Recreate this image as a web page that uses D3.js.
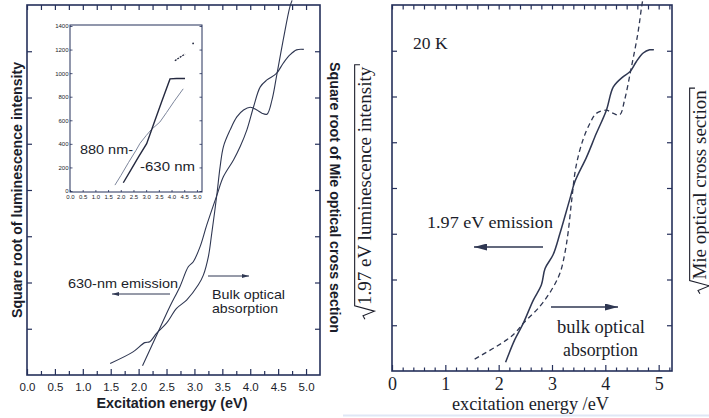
<!DOCTYPE html>
<html><head><meta charset="utf-8">
<script src="https://cdn.jsdelivr.net/npm/d3@7"></script>
<style>body{margin:0;background:#fff}svg{display:block}</style>
</head><body>
<svg id="c" width="709" height="418"></svg>
<script>
// ---------- DATA ----------
// Left panel: x tick labels
const leftXTicks = [0,0.5,1,1.5,2,2.5,3,3.5,4,4.5,5];
const leftXTickLabels = ["0.0","0.5","1.0","1.5","2.0","2.5","3.0","3.5","4.0","4.5","5.0"];
// Left panel: 630-nm emission (square root of luminescence, arbitrary units)
const leftEmisE = [2.07,2.38,2.56,2.74,2.89,2.98,3.10,3.22,3.40,3.52,3.70,3.82,3.94,4.06,4.18,4.30,4.47,4.59,4.71,4.83,4.96];
const leftEmisV = [0.20,1.01,1.48,1.91,2.34,2.45,2.77,3.24,3.88,4.29,4.65,4.94,5.30,5.80,6.23,6.38,6.52,6.74,6.92,7.03,7.04];
// Left panel: bulk optical absorption (square root of Mie cross section)
const leftAbsE = [1.49,1.90,2.11,2.20,2.32,2.50,2.68,2.86,3.07,3.16,3.25,3.31,3.40,3.46,3.52,3.64,3.76,3.88,4.00,4.12,4.21,4.30,4.39,4.47,4.59,4.71,4.75];
const leftAbsV = [0.25,0.50,0.70,0.72,0.90,1.12,1.44,1.62,1.95,2.16,2.56,3.06,3.88,4.50,4.94,5.30,5.58,5.73,5.79,5.73,5.66,5.64,5.95,6.45,7.24,7.96,8.10];
// Inset
const insetXTicks = [0,0.5,1,1.5,2,2.5,3,3.5,4,4.5,5];
const insetXTickLabels = ["0.0","0.5","1.0","1.5","2.0","2.5","3.0","3.5","4.0","4.5","5.0"];
const insetYTicks = [0,200,400,600,800,1000,1200,1400];
const inset880E = [1.77,2.00,2.30,2.60,2.76,3.00,3.20,3.54,3.80,4.10,4.46];
const inset880V = [50,130,240,345,405,470,520,585,665,760,867];
const inset630E = [2.10,2.40,2.70,3.02,3.30,3.60,3.94,4.20,4.53];
const inset630V = [70,180,290,402,570,750,951,955,955];
const insetHighE = [4.13,4.30,4.53];
const insetHighV = [1105,1130,1162];
const insetPointE = [4.85];
const insetPointV = [1252];
// Right panel
const rightXTicks = [0,1,2,3,4,5];
const rightXTickLabels = ["0","1","2","3","4","5"];
// 1.97 eV emission (solid)
const rightEmisE = [2.13,2.30,2.46,2.65,2.80,2.87,3.02,3.15,3.33,3.43,3.65,3.83,4.02,4.15,4.33,4.46,4.58,4.71,4.83,4.91];
const rightEmisV = [0.19,0.68,1.04,1.55,1.88,2.24,2.54,3.01,3.74,4.14,4.68,5.19,5.70,6.21,6.43,6.54,6.76,6.95,7.02,7.02];
// bulk optical absorption (dashed)
const rightAbsE = [1.55,2.15,2.33,2.46,2.77,2.99,3.15,3.24,3.30,3.37,3.45,3.58,3.71,3.83,4.02,4.15,4.27,4.36,4.49,4.61,4.68,4.70];
const rightAbsV = [0.26,0.68,0.86,1.04,1.41,1.77,2.14,2.57,3.01,3.74,4.47,5.05,5.41,5.63,5.70,5.63,5.60,5.92,6.65,7.38,7.96,8.10];

// ---------- DRAWING ----------
const svg = d3.select("#c");
const frameCol = "#25305a", lineCol = "#2f3752", textCol = "#1b1d2a";
const sans = "'Liberation Sans', Arial, sans-serif";
const serif = "'Liberation Serif', 'Times New Roman', serif";
const zip = (a,b) => a.map((d,i)=>[d,b[i]]);

const defs = svg.append("defs");
function marker(id, w, h) {
  defs.append("marker").attr("id", id).attr("viewBox", `0 0 ${w} ${h}`)
    .attr("refX", w).attr("refY", h/2).attr("markerWidth", w).attr("markerHeight", h)
    .attr("markerUnits","userSpaceOnUse").attr("orient","auto")
    .append("path").attr("d", `M0,0L${w},${h/2}L0,${h}Z`).attr("fill", lineCol);
}
marker("arrS", 7, 4);
marker("arrL", 13, 7);

// faint scan line at bottom
svg.append("line").attr("x1",343).attr("x2",709).attr("y1",415.5).attr("y2",415.5)
  .attr("stroke","#dfe7f6").attr("stroke-width",2);

function panel(o) {
  const g = svg.append("g");
  const x = o.x, y = o.y;
  const [x0,x1] = x.range(), [y1,y0] = y.range();
  const tickStyle = sel => { sel.select(".domain").remove(); sel.selectAll("line").attr("stroke", frameCol).attr("stroke-width",1.2); };
  const bot = g.append("g").attr("transform",`translate(0,${y1})`)
    .call(d3.axisBottom(x).tickValues(o.major).tickSize(-o.majLen).tickPadding(o.pad).tickFormat((d,i)=>o.labels[i]));
  tickStyle(bot);
  bot.selectAll("text").attr("font-family", o.font).attr("font-size", o.fs).attr("fill", textCol);
  g.append("g").attr("transform",`translate(0,${y1})`)
    .call(d3.axisBottom(x).tickValues(o.minor).tickSize(-o.minLen).tickFormat("")).call(tickStyle);
  g.append("g").attr("transform",`translate(0,${y0})`)
    .call(d3.axisTop(x).tickValues(o.major.concat(o.minor)).tickSize(-o.minLen-1).tickFormat("")).call(tickStyle);
  g.append("g").attr("transform",`translate(${x0},0)`)
    .call(d3.axisLeft(y).tickValues(d3.range(1,8)).tickSize(-5).tickFormat("")).call(tickStyle);
  g.append("g").attr("transform",`translate(${x1},0)`)
    .call(d3.axisRight(y).tickValues(d3.range(1,8)).tickSize(-5).tickFormat("")).call(tickStyle);
  g.append("rect").attr("x",x0).attr("y",y0).attr("width",x1-x0).attr("height",y1-y0)
    .attr("fill","none").attr("stroke",frameCol).attr("stroke-width",1.6);
  return g;
}

// ===== Left panel =====
const xL = d3.scaleLinear().domain([0,5.25]).range([27,320]);
const yL = d3.scaleLinear().domain([0,8]).range([375,5]);
const gL = panel({x:xL, y:yL, major:leftXTicks, labels:leftXTickLabels,
  minor:d3.range(0.25,5.25,0.5), majLen:6, minLen:4, pad:8, font:sans, fs:11.5});

const lineL = d3.line().x(d=>xL(d[0])).y(d=>yL(d[1])).curve(d3.curveCatmullRom.alpha(0.5));
gL.append("path").attr("d", lineL(zip(leftEmisE,leftEmisV))).attr("fill","none").attr("stroke",lineCol).attr("stroke-width",1.1);
gL.append("path").attr("d", lineL(zip(leftAbsE,leftAbsV))).attr("fill","none").attr("stroke",lineCol).attr("stroke-width",1.1);

function txt(g, x, y, s, font, fs, opts={}) {
  const t = g.append("text").attr("x",x).attr("y",y).text(s).attr("font-family",font)
    .attr("font-size",fs).attr("fill",textCol).attr("text-anchor",opts.anchor||"start");
  if (opts.bold) t.attr("font-weight","bold");
  if (opts.len) t.attr("textLength",opts.len).attr("lengthAdjust","spacingAndGlyphs");
  if (opts.rot) t.attr("transform",`rotate(${opts.rot},${x},${y})`);
  return t;
}
txt(gL, 172, 408, "Excitation energy (eV)", sans, 14, {anchor:"middle", bold:true, len:151});
txt(gL, 22, 190, "Square root of luminescence intensity", sans, 14, {anchor:"middle", bold:true, rot:-90, len:256});
txt(gL, 330, 197.5, "Square root of Mie optical cross section", sans, 14, {anchor:"middle", bold:true, rot:90, len:271});
txt(gL, 68, 288, "630-nm emission", sans, 13.5, {len:110});
txt(gL, 212, 299, "Bulk optical", sans, 13.5, {len:73});
txt(gL, 212, 313, "absorption", sans, 13.5, {len:66});
gL.append("line").attr("x1",170).attr("x2",112).attr("y1",294).attr("y2",294)
  .attr("stroke",lineCol).attr("stroke-width",1).attr("marker-end","url(#arrS)");
gL.append("line").attr("x1",208).attr("x2",249).attr("y1",276).attr("y2",276)
  .attr("stroke",lineCol).attr("stroke-width",1).attr("marker-end","url(#arrS)");

// ----- Inset -----
const xI = d3.scaleLinear().domain([0,5.2]).range([70,202]);
const yI = d3.scaleLinear().domain([0,1400]).range([191,26]);
const gI = gL.append("g");
gI.append("rect").attr("x",70).attr("y",25).attr("width",132).attr("height",167).attr("fill","#fff")
  .attr("stroke",frameCol).attr("stroke-width",1);
const iStyle = sel => { sel.select(".domain").remove(); sel.selectAll("line").attr("stroke",frameCol).attr("stroke-width",0.8); };
gI.append("g").attr("transform","translate(70,0)")
  .call(d3.axisLeft(yI).tickValues(insetYTicks).tickSize(-2.5).tickPadding(1.5).tickFormat(d3.format("d")))
  .call(iStyle).selectAll("text").attr("font-family",sans).attr("font-size",6).attr("fill",textCol);
gI.append("g").attr("transform","translate(202,0)")
  .call(d3.axisRight(yI).tickValues(insetYTicks).tickSize(-2.5).tickFormat("")).call(iStyle);
gI.append("g").attr("transform","translate(0,192)")
  .call(d3.axisBottom(xI).tickValues(insetXTicks).tickSize(-2).tickPadding(2.5).tickFormat((d,i)=>insetXTickLabels[i]))
  .call(iStyle).selectAll("text").attr("font-family",sans).attr("font-size",6).attr("fill",textCol);
const lineI = d3.line().x(d=>xI(d[0])).y(d=>yI(d[1]));
gI.append("path").attr("d", lineI(zip(inset880E,inset880V))).attr("fill","none").attr("stroke","#7d869c").attr("stroke-width",1);
gI.append("path").attr("d", lineI(zip(inset630E,inset630V))).attr("fill","none").attr("stroke","#252a40").attr("stroke-width",1.4);
gI.append("path").attr("d", lineI(zip(insetHighE,insetHighV))).attr("fill","none").attr("stroke","#252a40").attr("stroke-width",1.3).attr("stroke-dasharray","2,1");
gI.selectAll("circle.pt").data(zip(insetPointE,insetPointV)).join("circle").attr("class","pt")
  .attr("cx",d=>xI(d[0])).attr("cy",d=>yI(d[1])).attr("r",0.9).attr("fill","#252a40");
txt(gI, 80, 154, "880 nm-", sans, 12, {len:53});
txt(gI, 140, 171, "-630 nm", sans, 12, {len:55});

// ===== Right panel =====
const xR = d3.scaleLinear().domain([0,5.25]).range([392,672]);
const yR = d3.scaleLinear().domain([0,8]).range([371,5]);
const minorR = d3.range(0.2,5.21,0.2).filter(v=>Math.abs(v-Math.round(v))>0.01);
const gR = panel({x:xR, y:yR, major:rightXTicks, labels:rightXTickLabels,
  minor:minorR, majLen:6, minLen:3.5, pad:6, font:serif, fs:18});

const lineR = d3.line().x(d=>xR(d[0])).y(d=>yR(d[1])).curve(d3.curveCatmullRom.alpha(0.5));
gR.append("path").attr("d", lineR(zip(rightEmisE,rightEmisV))).attr("fill","none").attr("stroke",lineCol).attr("stroke-width",1.5);
gR.append("path").attr("d", lineR(zip(rightAbsE,rightAbsV))).attr("fill","none").attr("stroke",lineCol).attr("stroke-width",1.3).attr("stroke-dasharray","5,3.5");

txt(gR, 413, 49, "20 K", serif, 17.5);
txt(gR, 427, 228, "1.97 eV emission", serif, 17, {len:126});
txt(gR, 601, 333, "bulk optical", serif, 18, {anchor:"middle", len:88});
txt(gR, 600.5, 356, "absorption", serif, 18, {anchor:"middle", len:75});
txt(gR, 530.5, 410, "excitation energy /eV", serif, 18, {anchor:"middle", len:157});
gR.append("line").attr("x1",543).attr("x2",474).attr("y1",247).attr("y2",247)
  .attr("stroke",lineCol).attr("stroke-width",1.4).attr("marker-end","url(#arrL)");
gR.append("line").attr("x1",551).attr("x2",618).attr("y1",307).attr("y2",307)
  .attr("stroke",lineCol).attr("stroke-width",1.4).attr("marker-end","url(#arrL)");

// radical labels (rotated, reading bottom to top)
function radicalLabel(cx, cy, s, fs) {
  const g = svg.append("g").attr("transform",`translate(${cx},${cy}) rotate(-90)`);
  const t = g.append("text").text(s).attr("font-family",serif).attr("font-size",fs).attr("fill",textCol);
  const L = t.node().getComputedTextLength();
  const rw = 0.75*fs, tot = L + rw, xs = -tot/2;
  t.attr("x", xs + rw).attr("y", 0);
  const top = -0.86*fs;
  g.append("path").attr("d",
    `M${xs},${-0.32*fs}L${xs+0.18*fs},${-0.42*fs}L${xs+0.42*fs},${0.18*fs}L${xs+rw-0.05*fs},${top}L${tot/2+2},${top}L${tot/2+2},${top+0.28*fs}`)
    .attr("fill","none").attr("stroke",textCol).attr("stroke-width",1.1);
}
radicalLabel(371, 193, "1.97 eV luminescence intensity", 19);
radicalLabel(706, 192, "Mie optical cross section", 19);
</script>
</body></html>
